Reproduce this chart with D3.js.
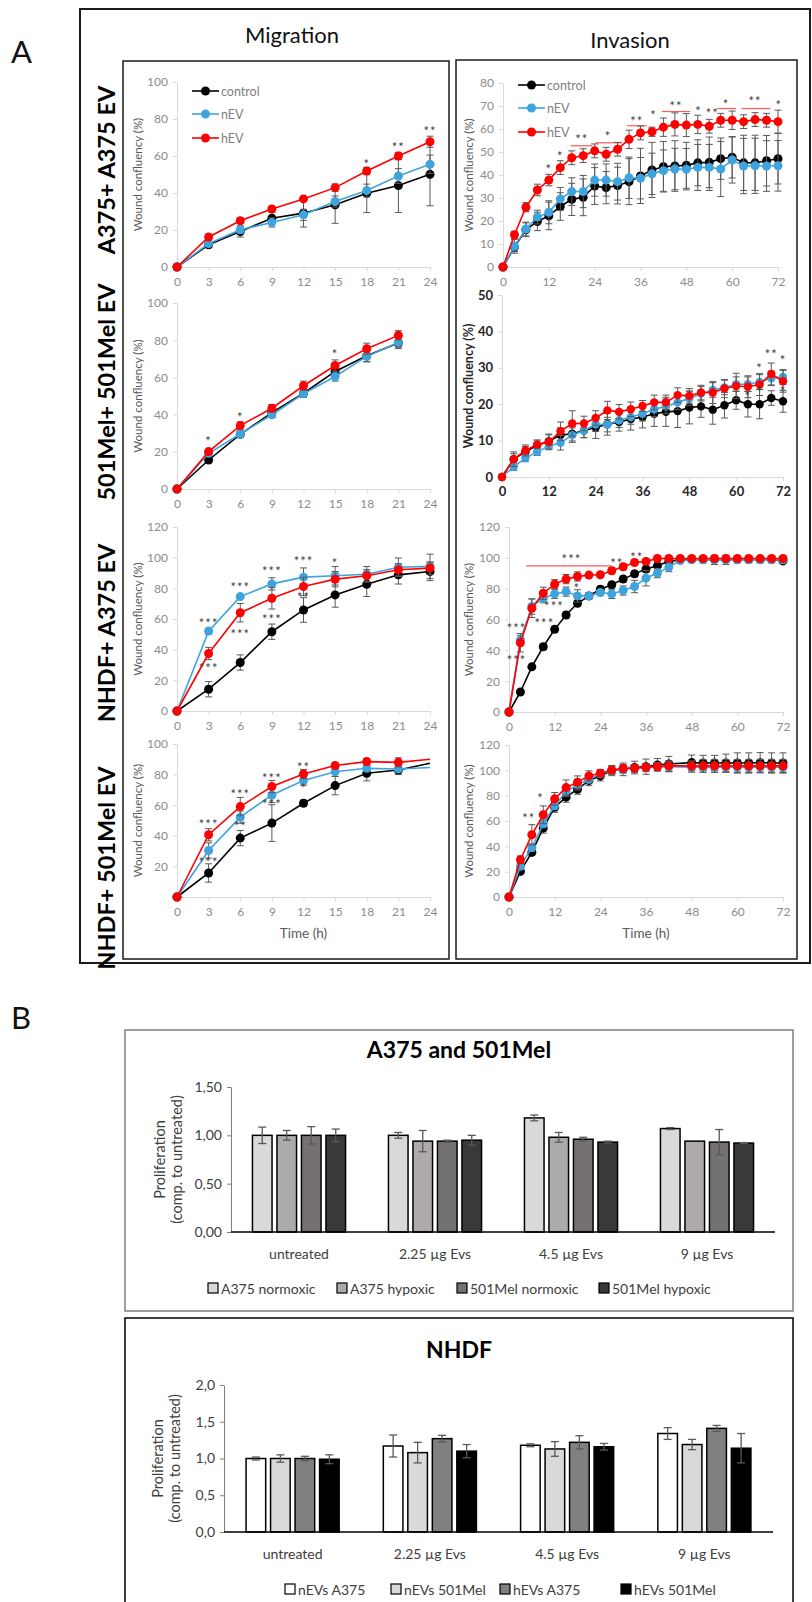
<!DOCTYPE html>
<html><head><meta charset="utf-8">
<script src="https://cdn.jsdelivr.net/npm/d3@7"></script>
<style>body{margin:0;background:#fff}svg{display:block}text{font-family:Lato,"Open Sans",sans-serif}</style>
</head><body><svg id="c" width="812" height="1602"></svg>
<script>
// ---------------- DATA ----------------
const seriesNames = ["control","nEV","hEV"];
const seriesColors = ["#000000","#3fa4de","#ff0000"];
const timesMig = [0,3,6,9,12,15,18,21,24];
const timesMig2 = [0,3,6,9,12,15,18,21];
const timesInv = [0,3,6,9,12,15,18,21,24,27,30,33,36,39,42,45,48,51,54,57,60,63,66,69,72];
const timesInv4 = [0,3,6,9,12,15,18,21,24,27,30,33,36,39,42,48,51,54,57,60,63,66,69,72];
const ticksMigX = [0,3,6,9,12,15,18,21,24];
const ticksInvX = [0,12,24,36,48,60,72];

// Migration A375 + A375 EV
const mig1Control = [0,12.0,19.2,26.4,29.1,33.6,39.9,44.0,50.1];
const mig1ControlErr = [0,1.5,3,3,7.5,10,10.5,14.5,17];
const mig1NEV = [0,12.6,20.1,24.1,28.2,35.4,41.3,49.2,55.5];
const mig1NEVErr = [0,1,2,2.5,3,3,3.5,4,5];
const mig1HEV = [0,16.2,25.0,31.4,36.8,42.9,51.9,60.0,67.7];
const mig1HEVErr = [0,1,1.5,1,1,2,2,2,3];
const mig1Stars = [[18,56.4,"*"],[21,65.5,"**"],[24,74,"**"]];

// Migration 501Mel + 501Mel EV
const mig2Control = [0,15.6,29.4,41.1,51.5,63.2,71.6,78.5];
const mig2ControlErr = [0,1,1.5,1.5,2,2.5,3,3];
const mig2NEV = [0,19.2,29.6,39.9,51.2,60.5,71.3,78.8];
const mig2NEVErr = [0,1,1.5,1.5,2,2.5,3,2.5];
const mig2HEV = [0,20.1,34.1,43.4,55.5,66.4,75.4,82.6];
const mig2HEVErr = [0,1,2,2,2.5,3,3,2.5];
const mig2Stars = [[3,26.4,"*"],[6,39,"*"],[15,73,"*"]];

// Migration NHDF + A375 EV
const mig3Control = [0,14.2,31.6,51.7,65.9,75.7,82.7,88.8,91.0];
const mig3ControlErr = [0,5,5,5,8,8,8,6,6];
const mig3NEV = [0,52.1,74.6,82.9,87.3,88.2,89.2,93.8,94.3];
const mig3NEVErr = [0,2,1,4,6,6,5,6,8];
const mig3HEV = [0,37.5,64.1,73.5,81.2,86.0,88.2,92.1,93.2];
const mig3HEVErr = [0,4,6,7,6,5,4,4,4];
const mig3Stars = [[3,58.3,"***"],[3,28.8,"***"],[6,81.2,"***"],[6,50.6,"***"],[9,92.1,"***"],[9,60.9,"***"],[12,98.2,"***"],[12,75.1,"**"],[15,96.9,"*"]];

// Migration NHDF + 501Mel EV
const mig4Control = [0,15.7,38.5,48.3,61.3,72.8,80.9,83.0,87.4];
const mig4ControlErr = [0,6,5,12,2,6,5,3,0];
const mig4NEV = [0,30.4,52.2,66.7,76.1,81.9,84.1,83.7,84.6];
const mig4NEVErr = [0,5,4,5,3,3,2,2,0];
const mig4HEV = [0,40.7,59.1,72.2,80.4,85.9,88.5,88.0,90.0];
const mig4HEVErr = [0,4,6,4,3,2,2,3,0];
const mig4Stars = [[3,48.3,"***"],[3,23.3,"***"],[6,68.3,"***"],[6,47.2,"**"],[9,78.7,"***"],[9,61.7,"***"],[12,85.7,"**"],[12,72.2,"*"]];

// Invasion A375 + A375 EV
const inv1Control = [0,8.7,16.2,19.8,22.2,26.3,29.4,30.3,35.2,34.5,35.4,37.1,39.6,42.2,43.6,43.9,44.2,45.3,45.5,47.1,47.7,45.3,45.3,46.2,47.1];
const inv1ControlErr = [0,2,3,4,6,6,7,8,8,7,8,10,12,12,11,11,10,10,11,9,9,12,12,11,11];
const inv1NEV = [0,9.0,16.5,21.7,23.8,29.6,32.8,32.8,37.8,37.8,37.1,38.8,38.6,40.5,41.9,42.6,42.5,43.3,43.3,42.6,46.5,43.9,44.0,43.9,44.0];
const inv1NEVErr = [0,3,3,3,5,5,6,7,7,7,8,9,9,9,9,9,9,10,10,12,10,12,12,11,11];
const inv1HEV = [0,14.0,26.0,33.5,37.8,43.2,47.5,48.4,50.5,49.0,51.2,55.5,58.3,58.8,60.8,62.0,61.7,62.0,61.2,63.8,63.8,63.2,64.1,63.8,63.2];
const inv1HEVErr = [0,1.5,2,2.5,2.5,3,3,3,3,3,3,4,3,2,4,5,5,4,3,3,4,3,3,3,5];
const inv1Stars = [[12,42.9,"*"],[15,48.5,"*"],[20.6,55.9,"**"],[27.5,57.3,"*"],[35,63.8,"**"],[39.4,66.7,"*"],[45.3,70.6,"**"],[51.2,68.4,"*"],[54.8,67.4,"**"],[58.4,71.3,"*"],[66,72.5,"**"],[72.2,71,"*"]];
const inv1SigLines = [[17.7,23.4,52.7],[24.2,31.3,54.0],[32.5,37.6,61.4],[41.6,49,67.6],[56,61,68.9],[62.4,70,68.9]];

// Invasion 501Mel + 501Mel EV
const inv2Control = [0,4.9,6.9,8.7,9.8,11.5,11.9,12.8,13.6,14.5,15.1,15.9,16.5,17.4,17.9,18.1,19.1,19.4,18.5,19.7,21.1,20.0,20.0,21.7,20.8];
const inv2ControlErr = [0,1.5,1.5,1.5,2,2,2,2,3,3,2.5,3,3,3.5,4,4.5,4.5,3,4,3.5,2.5,3.5,4,2,3];
const inv2NEV = [0,2.8,5.2,6.9,8.5,9.4,11.5,12.8,14.5,14.4,15.6,16.5,17.4,18.6,19.4,20.5,21.6,22.9,23.9,24.6,25.5,25.5,26.1,27.1,27.5];
const inv2NEVErr = [0,1,1,1,1,2,2,2,2,2,2,2,2,2,2,2,2,2,2,2,2,2,2,2,2];
const inv2HEV = [0,4.9,7.3,8.9,9.6,12.6,14.7,14.7,16.2,18.3,17.9,18.6,19.5,20.5,20.5,22.5,22.3,23.2,23.2,24.3,25.0,24.8,25.4,28.3,26.3];
const inv2HEVErr = [0,2,1.5,1,2,2.5,3.5,2,2,2.5,2,2,1.5,2,2,2,2,2,3,2.5,3.5,3,3,3,3];
const inv2Stars = [[66,30.3,"*"],[69,34,"**"],[72,32.3,"*"],[63,22.5,"*"],[66,24,"*"],[72,24,"*"]];

// Invasion NHDF + A375 EV
const inv3Control = [0,13.0,29.3,42.3,53.6,62.9,70.5,75.3,79.6,82.5,86.2,89.6,92.7,94.8,97.7,98.7,99.0,99.0,99.0,99.0,99.0,99.0,99.0,99.0,98.0];
const inv3ControlErr = [0,1,1,2,2,2,2,2,2,2,2,2,2,2,1,1,1,1,1,1,1,1,1,1,1];
const inv3NEV = [0,46.7,68.4,73.8,76.6,78.1,75.3,75.3,77.5,76.6,78.8,81.4,86.8,90.1,94.0,98.3,98.7,98.7,98.7,98.7,98.7,98.7,98.7,98.7,98.7];
const inv3NEVErr = [0,3,5,3,3,3,4,2,2,3,3,4,5,3,3,1,1,2,3,3,2,2,2,2,2];
const inv3HEV = [0,44.9,67.3,77.0,82.9,86.2,87.9,88.8,89.0,91.6,94.2,97.0,97.7,99.6,99.6,99.6,99.6,99.6,99.6,99.6,99.6,99.6,99.6,99.6,99.6];
const inv3HEVErr = [0,6,6,4,3,3,3,1,1,2,2,1,1,1,1,1,1,1,1,1,1,1,1,1,1];
const inv3Stars = [[16.4,99.8,"***"],[28.3,97.0,"**"],[33.6,101,"**"],[2,55.3,"***"],[2,34.1,"***"],[9.3,58.5,"***"],[11.8,69.5,"***"],[17.8,81.4,"*"]];
const inv3SigLines = [[4.5,27,94.8]];

// Invasion NHDF + 501Mel EV
const inv4Control = [0,20.2,35.2,54.4,70.9,78.8,85.1,91.9,95.6,99.8,100.8,102.2,102.9,104.3,105.0,106.1,105.8,105.8,105.8,105.8,105.8,106.0,105.8,105.8];
const inv4ControlErr = [0,2,2,4,4,4,4,4,4,4,5,5,6,5,6,6,6,6,7,8,8,8,8,8];
const inv4NEV = [0,24.2,39.1,57.8,72.0,83.2,88.5,93.0,97.2,99.8,100.8,101.6,102.2,102.9,102.9,102.5,102.5,102.5,102.5,102.5,102.5,102.5,102.5,102.5];
const inv4NEVErr = [0,2,3,3,3,4,4,3,3,3,3,3,3,3,4,4,4,4,4,4,4,4,4,4];
const inv4HEV = [0,29.4,49.1,64.9,77.5,86.4,90.6,95.6,97.7,100.3,101.6,101.6,102.4,102.9,103.5,103.5,103.5,103.5,103.5,103.5,103.5,103.5,103.5,103.5];
const inv4HEVErr = [0,3,8,7,5,6,5,4,3,3,3,3,3,3,4,4,5,5,5,5,5,5,5,5];
const inv4Stars = [[5.2,63,"**"],[8.3,79,"*"]];

// Proliferation bar charts
const barCats = ["untreated","2.25 µg Evs","4.5 µg Evs","9 µg Evs"];
const melNames = ["A375 normoxic","A375 hypoxic","501Mel normoxic","501Mel hypoxic"];
const melColors = ["#d9d9d9","#aeaaaa","#767171","#3a3838"];
const a375Normoxic = [1.00,1.00,1.18,1.07];
const a375NormoxicErr = [0.085,0.03,0.03,0.01];
const a375Hypoxic = [1.00,0.94,0.98,0.94];
const a375HypoxicErr = [0.05,0.11,0.05,0];
const mel501Normoxic = [1.00,0.94,0.96,0.93];
const mel501NormoxicErr = [0.09,0.01,0.02,0.13];
const mel501Hypoxic = [1.00,0.95,0.93,0.92];
const mel501HypoxicErr = [0.065,0.05,0.01,0.005];
const melTicks = [0,0.5,1,1.5];

const nhdfNames = ["nEVs A375","nEVs 501Mel","hEVs A375","hEVs 501Mel"];
const nhdfColors = ["#ffffff","#d9d9d9","#808080","#000000"];
const nEVsA375 = [1.00,1.17,1.18,1.34];
const nEVsA375Err = [0.02,0.15,0.02,0.08];
const nEVs501Mel = [1.00,1.08,1.13,1.19];
const nEVs501MelErr = [0.05,0.14,0.10,0.07];
const hEVsA375 = [1.00,1.27,1.22,1.41];
const hEVsA375Err = [0.03,0.045,0.09,0.04];
const hEVs501Mel = [0.99,1.10,1.16,1.14];
const hEVs501MelErr = [0.06,0.09,0.045,0.20];
const nhdfTicks = [0,0.5,1,1.5,2];

// ---------------- DRAW ----------------
const svg = d3.select("#c");
const FONT = "Lato, 'Open Sans', sans-serif";

// Frames
svg.append("rect").attr("x",80).attr("y",9).attr("width",730).attr("height",954).attr("fill","none").attr("stroke","#1a1a1a").attr("stroke-width",2);
svg.append("rect").attr("x",123).attr("y",61).attr("width",326).attr("height",898).attr("fill","none").attr("stroke","#1a1a1a").attr("stroke-width",1.5);
svg.append("rect").attr("x",456).attr("y",60).attr("width",341).attr("height",899).attr("fill","none").attr("stroke","#1a1a1a").attr("stroke-width",1.5);

svg.append("text").attr("x",11).attr("y",63).attr("font-size",31).attr("fill","#111").text("A");
svg.append("text").attr("x",11).attr("y",1029).attr("font-size",31).attr("fill","#111").text("B");
svg.append("text").attr("x",292).attr("y",43).attr("text-anchor","middle").attr("font-size",22).attr("fill","#111").text("Migration");
svg.append("text").attr("x",630).attr("y",48).attr("text-anchor","middle").attr("font-size",22).attr("fill","#111").text("Invasion");

const rowLabels = ["A375+ A375 EV","501Mel+ 501Mel EV","NHDF+ A375 EV","NHDF+ 501Mel EV"];
const rowCenters = [170,392,633,868];
rowLabels.forEach((t,i)=>{
  svg.append("text").attr("transform",`translate(106,${rowCenters[i]}) rotate(-90)`)
    .attr("text-anchor","middle").attr("dominant-baseline","central")
    .attr("font-size",23.5).attr("font-weight","bold").attr("fill","#000").text(t);
});

function linePanel(cfg){
  const x = d3.scaleLinear().domain(cfg.xDomain).range(cfg.xRange);
  const y = d3.scaleLinear().domain(cfg.yDomain).range(cfg.yRange);
  const g = svg.append("g");
  const axC = "#d9d9d9";
  const xa = g.append("g").attr("transform",`translate(0,${cfg.yRange[0]})`)
    .call(d3.axisBottom(x).tickValues(cfg.xTicks).tickSize(4).tickSizeOuter(0).tickPadding(6));
  xa.attr("font-family",FONT).attr("font-size",cfg.yBold?13:12);
  xa.select(".domain").attr("stroke",axC);
  xa.selectAll(".tick line").attr("stroke",axC);
  xa.selectAll(".tick text").attr("fill",cfg.yBold?"#262626":"#8c8c8c").attr("font-weight",cfg.yBold?"bold":null);
  const ya = g.append("g").attr("transform",`translate(${cfg.xRange[0]},0)`)
    .call(d3.axisLeft(y).tickValues(cfg.yTicks).tickSize(4).tickSizeOuter(0).tickPadding(5));
  ya.attr("font-family",FONT).attr("font-size",cfg.yBold?13:12);
  ya.select(".domain").attr("stroke",axC);
  ya.selectAll(".tick line").attr("stroke",axC);
  ya.selectAll(".tick text").attr("fill",cfg.yBold?"#262626":"#8c8c8c").attr("font-weight",cfg.yBold?"bold":null);
  const yc = (cfg.yRange[0]+cfg.yRange[1])/2;
  g.append("text").attr("transform",`translate(${cfg.yTitleX},${yc}) rotate(-90)`)
    .attr("text-anchor","middle").attr("dominant-baseline","central")
    .attr("font-size",cfg.yBold?12.5:11.5).attr("font-weight",cfg.yBold?"bold":null)
    .attr("fill",cfg.yBold?"#262626":"#595959").text("Wound confluency (%)");
  if(cfg.xTitle){
    g.append("text").attr("x",(cfg.xRange[0]+cfg.xRange[1])/2).attr("y",cfg.yRange[0]+41)
      .attr("text-anchor","middle").attr("font-size",13.5).attr("fill","#595959").text("Time (h)");
  }
  (cfg.sigLines||[]).forEach(l=>{
    g.append("line").attr("x1",x(l[0])).attr("x2",x(l[1])).attr("y1",y(l[2])).attr("y2",y(l[2]))
      .attr("stroke","#ff5a5a").attr("stroke-width",1.2);
  });
  const r = cfg.r||4.5;
  cfg.series.forEach((s,si)=>{
    const pts = cfg.times.map((t,i)=>({t:t,v:s.values[i],e:s.err[i]}));
    const col = seriesColors[si];
    const eb = g.append("g").attr("stroke","#595959").attr("stroke-width",1);
    pts.filter(p=>p.e>0).forEach(p=>{
      const px = x(p.t);
      eb.append("line").attr("x1",px).attr("x2",px).attr("y1",y(p.v-p.e)).attr("y2",y(p.v+p.e));
      eb.append("line").attr("x1",px-3.5).attr("x2",px+3.5).attr("y1",y(p.v-p.e)).attr("y2",y(p.v-p.e));
      eb.append("line").attr("x1",px-3.5).attr("x2",px+3.5).attr("y1",y(p.v+p.e)).attr("y2",y(p.v+p.e));
    });
    g.append("path").datum(pts).attr("fill","none").attr("stroke",col).attr("stroke-width",1.6)
      .attr("d",d3.line().x(p=>x(p.t)).y(p=>y(p.v)));
    const mk = pts.filter(p=>cfg.markerMax===undefined || p.t<=cfg.markerMax);
    g.selectAll(null).data(mk).enter().append("circle")
      .attr("cx",p=>x(p.t)).attr("cy",p=>y(p.v)).attr("r",r).attr("fill",col);
  });
  (cfg.stars||[]).forEach(s=>{
    g.append("text").attr("x",x(s[0])).attr("y",y(s[1])+6).attr("text-anchor","middle")
      .attr("font-size",13).attr("letter-spacing",1).attr("fill","#404040").text(s[2]);
  });
  if(cfg.legend){
    const L = cfg.legend;
    seriesNames.forEach((n,i)=>{
      const ly = L.y[i];
      g.append("line").attr("x1",L.x0).attr("x2",L.x1).attr("y1",ly).attr("y2",ly).attr("stroke",seriesColors[i]).attr("stroke-width",1.6);
      g.append("circle").attr("cx",(L.x0+L.x1)/2).attr("cy",ly).attr("r",r).attr("fill",seriesColors[i]);
      g.append("text").attr("x",L.x1+2).attr("y",ly).attr("dominant-baseline","central").attr("font-size",12.5).attr("fill","#7f7f7f").text(n);
    });
  }
}

const migX = [177,430];
linePanel({times:timesMig, xDomain:[0,24], xRange:migX, xTicks:ticksMigX, yDomain:[0,100], yRange:[267,82], yTicks:[0,20,40,60,80,100], yTitleX:137,
  series:[{values:mig1Control,err:mig1ControlErr},{values:mig1NEV,err:mig1NEVErr},{values:mig1HEV,err:mig1HEVErr}],
  stars:mig1Stars, legend:{x0:192,x1:219,y:[91,114,138]}});
linePanel({times:timesMig2, xDomain:[0,24], xRange:migX, xTicks:ticksMigX, yDomain:[0,100], yRange:[489,303], yTicks:[0,20,40,60,80,100], yTitleX:137,
  series:[{values:mig2Control,err:mig2ControlErr},{values:mig2NEV,err:mig2NEVErr},{values:mig2HEV,err:mig2HEVErr}],
  stars:mig2Stars});
linePanel({times:timesMig, xDomain:[0,24], xRange:migX, xTicks:ticksMigX, yDomain:[0,120], yRange:[711,527], yTicks:[0,20,40,60,80,100,120], yTitleX:137,
  series:[{values:mig3Control,err:mig3ControlErr},{values:mig3NEV,err:mig3NEVErr},{values:mig3HEV,err:mig3HEVErr}],
  stars:mig3Stars});
linePanel({times:timesMig, xDomain:[0,24], xRange:migX, xTicks:ticksMigX, yDomain:[0,100], yRange:[897,744], yTicks:[20,40,60,80,100], yTitleX:137,
  series:[{values:mig4Control,err:mig4ControlErr},{values:mig4NEV,err:mig4NEVErr},{values:mig4HEV,err:mig4HEVErr}],
  stars:mig4Stars, markerMax:21, xTitle:true});

linePanel({times:timesInv, xDomain:[0,72], xRange:[503,778], xTicks:ticksInvX, yDomain:[0,80], yRange:[267,83], yTicks:[0,10,20,30,40,50,60,70,80], yTitleX:468,
  series:[{values:inv1Control,err:inv1ControlErr},{values:inv1NEV,err:inv1NEVErr},{values:inv1HEV,err:inv1HEVErr}],
  stars:inv1Stars, sigLines:inv1SigLines, legend:{x0:518,x1:545,y:[85,108,132]}});
linePanel({times:timesInv, xDomain:[0,72], xRange:[502,783], xTicks:ticksInvX, yDomain:[0,50], yRange:[477,295], yTicks:[0,10,20,30,40,50], yTitleX:468,
  series:[{values:inv2Control,err:inv2ControlErr},{values:inv2NEV,err:inv2NEVErr},{values:inv2HEV,err:inv2HEVErr}],
  stars:inv2Stars, yBold:true, r:4.2});
linePanel({times:timesInv, xDomain:[0,72], xRange:[509,783], xTicks:ticksInvX, yDomain:[0,120], yRange:[712,527], yTicks:[0,20,40,60,80,100,120], yTitleX:468,
  series:[{values:inv3Control,err:inv3ControlErr},{values:inv3NEV,err:inv3NEVErr},{values:inv3HEV,err:inv3HEVErr}],
  stars:inv3Stars, sigLines:inv3SigLines});
linePanel({times:timesInv4, xDomain:[0,72], xRange:[509,783], xTicks:ticksInvX, yDomain:[0,120], yRange:[897,745], yTicks:[0,20,40,60,80,100,120], yTitleX:468,
  series:[{values:inv4Control,err:inv4ControlErr},{values:inv4NEV,err:inv4NEVErr},{values:inv4HEV,err:inv4HEVErr}],
  stars:inv4Stars, xTitle:true});

function barPanel(cfg){
  const g = svg.append("g");
  g.append("path").attr("d",cfg.boxPath).attr("fill","none").attr("stroke",cfg.boxColor).attr("stroke-width",1.5);
  g.append("text").attr("x",459).attr("y",cfg.titleY).attr("text-anchor","middle").attr("font-size",23).attr("font-weight","bold").attr("fill","#000").text(cfg.title);
  const x0 = d3.scaleBand().domain(barCats).range(cfg.xRange);
  const x1 = d3.scaleBand().domain([0,1,2,3]).range([-49,49]).paddingInner(0.2).paddingOuter(0.1);
  const y = d3.scaleLinear().domain(cfg.yDomain).range(cfg.yRange);
  const ya = g.append("g").attr("transform",`translate(${cfg.xRange[0]},0)`)
    .call(d3.axisLeft(y).tickValues(cfg.ticks).tickSize(4).tickSizeOuter(0).tickPadding(5).tickFormat(d=>d.toFixed(cfg.dec).replace(".",",")));
  ya.attr("font-family",FONT).attr("font-size",14);
  ya.select(".domain").attr("stroke","#7f7f7f");
  ya.selectAll(".tick line").attr("stroke","#7f7f7f");
  ya.selectAll(".tick text").attr("fill","#404040");
  const yc = (cfg.yRange[0]+cfg.yRange[1])/2;
  g.append("text").attr("transform",`translate(${cfg.yTitleX[0]},${yc}) rotate(-90)`).attr("text-anchor","middle").attr("dominant-baseline","central")
    .attr("font-size",14.5).attr("fill","#404040").text("Proliferation");
  g.append("text").attr("transform",`translate(${cfg.yTitleX[1]},${yc}) rotate(-90)`).attr("text-anchor","middle").attr("dominant-baseline","central")
    .attr("font-size",14.5).attr("fill","#404040").text("(comp. to untreated)");
  cfg.series.forEach((s,si)=>{
    barCats.forEach((c,ci)=>{
      const bx = x0(c)+x0.bandwidth()/2 + x1(si);
      const v = s.values[ci], e = s.err[ci];
      g.append("rect").attr("x",bx).attr("y",y(v)).attr("width",x1.bandwidth()).attr("height",y(0)-y(v))
        .attr("fill",cfg.colors[si]).attr("stroke","#000").attr("stroke-width",1.5);
      if(e>0){
        const cx = bx+x1.bandwidth()/2;
        g.append("line").attr("x1",cx).attr("x2",cx).attr("y1",y(v-e)).attr("y2",y(v+e)).attr("stroke","#595959").attr("stroke-width",1.3);
        [v-e,v+e].forEach(w=>g.append("line").attr("x1",cx-4).attr("x2",cx+4).attr("y1",y(w)).attr("y2",y(w)).attr("stroke","#595959").attr("stroke-width",1.3));
      }
    });
  });
  g.append("line").attr("x1",cfg.xRange[0]).attr("x2",cfg.xRange[1]).attr("y1",y(0)).attr("y2",y(0)).attr("stroke","#000").attr("stroke-width",1.5);
  barCats.forEach(c=>{
    g.append("text").attr("x",x0(c)+x0.bandwidth()/2).attr("y",cfg.catY).attr("text-anchor","middle").attr("dominant-baseline","central")
      .attr("font-size",14).attr("fill","#404040").text(c);
  });
  cfg.names.forEach((n,i)=>{
    const lx = cfg.legendX[i];
    g.append("rect").attr("x",lx-5).attr("y",cfg.legendY-5).attr("width",10).attr("height",10).attr("fill",cfg.colors[i]).attr("stroke","#000").attr("stroke-width",1.2);
    g.append("text").attr("x",lx+8).attr("y",cfg.legendY).attr("dominant-baseline","central").attr("font-size",14).attr("fill","#404040").text(n);
  });
}

barPanel({title:"A375 and 501Mel", titleY:1058, boxPath:"M125,1030H793V1311H125Z", boxColor:"#7f7f7f",
  xRange:[231,775], yDomain:[0,1.5], yRange:[1232,1087], ticks:melTicks, dec:2, yTitleX:[159,176],
  names:melNames, colors:melColors, catY:1253, legendY:1288, legendX:[213,342,462,604],
  series:[{values:a375Normoxic,err:a375NormoxicErr},{values:a375Hypoxic,err:a375HypoxicErr},{values:mel501Normoxic,err:mel501NormoxicErr},{values:mel501Hypoxic,err:mel501HypoxicErr}]});
barPanel({title:"NHDF", titleY:1358, boxPath:"M125,1610V1318H793V1610", boxColor:"#000",
  xRange:[224,773], yDomain:[0,2], yRange:[1532,1385], ticks:nhdfTicks, dec:1, yTitleX:[157,174],
  names:nhdfNames, colors:nhdfColors, catY:1553, legendY:1589, legendX:[290,396,505,626],
  series:[{values:nEVsA375,err:nEVsA375Err},{values:nEVs501Mel,err:nEVs501MelErr},{values:hEVsA375,err:hEVsA375Err},{values:hEVs501Mel,err:hEVs501MelErr}]});
</script></body></html>
